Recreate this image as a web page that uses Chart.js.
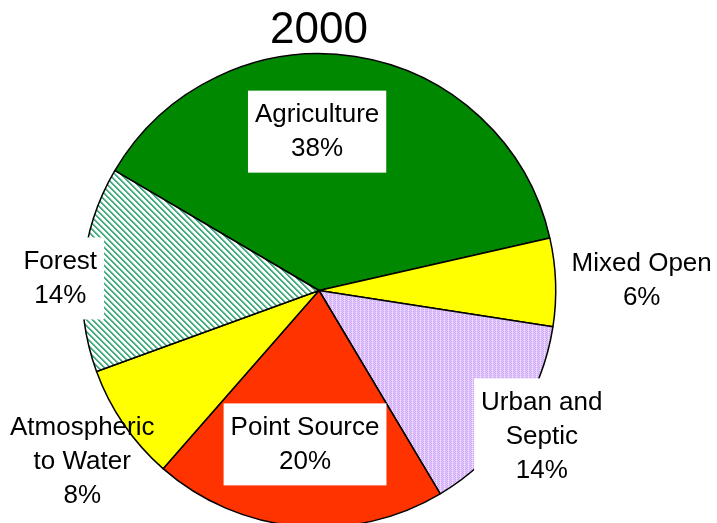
<!DOCTYPE html>
<html>
<head>
<meta charset="utf-8">
<script src="https://cdn.jsdelivr.net/npm/chart.js@4"></script>
<style>
  html, body { margin: 0; padding: 0; background: #fff; overflow: hidden; }
  #wrap { width: 717px; height: 536px; }
</style>
</head>
<body>
<div id="wrap"><canvas id="pie" width="717" height="536"></canvas></div>
<script>
// chart data
const title = "2000";
const categories = ["Agriculture", "Mixed Open", "Urban and Septic", "Point Source", "Atmospheric to Water", "Forest"];
const shares = [38, 6, 14, 20, 8, 14];
// how each label is broken into lines
const labelLines = [
  ["Agriculture"],
  ["Mixed Open"],
  ["Urban and", "Septic"],
  ["Point Source"],
  ["Atmospheric", "to Water"],
  ["Forest"],
];
// label centre, as a fraction of the radius from the pie centre
const labelAnchors = [
  [-0.008, -0.671],
  [1.363, -0.042],
  [0.941, 0.616],
  [-0.059, 0.650],
  [-1.0, 0.722],
  [-1.093, -0.051],
];
const labelBoxed = [true, false, true, true, false, true];

// hatched fills
function makeTile(size, pick) {
  const c = document.createElement("canvas");
  c.width = size;
  c.height = size;
  const g = c.getContext("2d");
  for (let y = 0; y < size; y++) {
    for (let x = 0; x < size; x++) {
      g.fillStyle = pick(x, y);
      g.fillRect(x, y, 1, 1);
    }
  }
  return g.createPattern(c, "repeat");
}

const forestFill = makeTile(6, (x, y) => {
  const k = (x - y + 12) % 6;
  if (k < 2) return "#45ad7f";
  if (k === 2) return "#a6d9c1";
  return "#ffffff";
});

const urbanFill = makeTile(4, (x, y) => {
  if ((x + y) % 2 === 0) return x % 4 === 0 ? "#f1e6fd" : "#d0aaf8";
  return "#e1c9fb";
});

const fills = ["#008800", "#ffff00", urbanFill, "#ff3300", "#ffff00", forestFill];

// draws the white label boxes with the category text and percentage
const pieLabels = {
  id: "pieLabels",
  afterDatasetsDraw(chart) {
    const ctx = chart.ctx;
    const arcs = chart.getDatasetMeta(0).data;
    const fontSize = 26;
    const lineH = 34;
    ctx.save();
    ctx.font = fontSize + "px 'Liberation Sans', Arial, sans-serif";
    ctx.textAlign = "center";
    ctx.textBaseline = "middle";
    arcs.forEach((arc, i) => {
      const r = arc.outerRadius;
      const cx = arc.x + labelAnchors[i][0] * r;
      const cy = arc.y + labelAnchors[i][1] * r;
      const lines = labelLines[i].concat([shares[i] + "%"]);
      const w = Math.max(...lines.map((l) => ctx.measureText(l).width));
      const h = lines.length * lineH;
      if (labelBoxed[i]) {
        ctx.fillStyle = "#ffffff";
        ctx.fillRect(cx - w / 2 - 7, cy - h / 2 - 7, w + 14, h + 14);
      }
      ctx.fillStyle = "#000000";
      lines.forEach((l, j) => {
        ctx.fillText(l, cx, cy - h / 2 + lineH * (j + 0.5));
      });
    });
    ctx.restore();
  },
};

new Chart(document.getElementById("pie"), {
  type: "pie",
  data: {
    labels: categories,
    datasets: [
      {
        data: shares,
        backgroundColor: fills,
        borderColor: "#000000",
        borderWidth: 1.5,
      },
    ],
  },
  options: {
    responsive: false,
    animation: false,
    rotation: 300.4,
    events: [],
    layout: {
      padding: { left: 0, right: 79, top: 0, bottom: 8 },
    },
    plugins: {
      legend: { display: false },
      tooltip: { enabled: false },
      title: {
        display: true,
        text: title,
        color: "#000000",
        font: { family: "'Liberation Sans', Arial, sans-serif", size: 44, weight: "normal", lineHeight: 1 },
        padding: { top: 9, bottom: 0 },
      },
    },
  },
  plugins: [pieLabels],
});
</script>
</body>
</html>
